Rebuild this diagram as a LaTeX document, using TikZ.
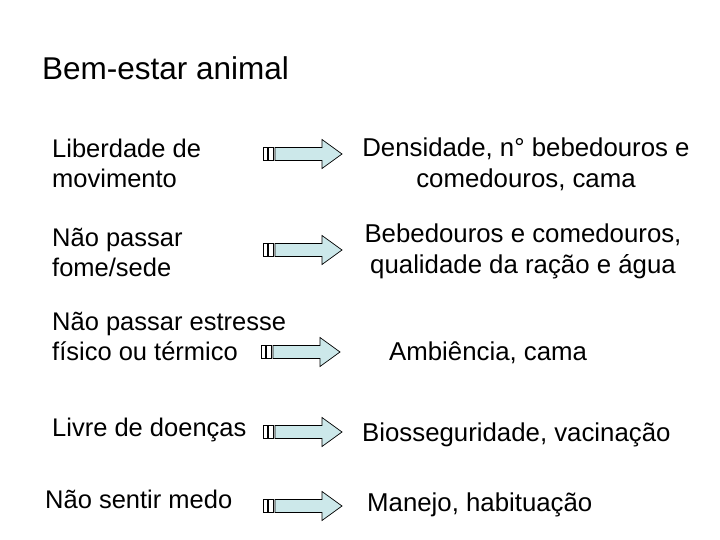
\documentclass[tikz,border=0pt]{standalone}
\usepackage{fontspec}
\setmainfont{Liberation Sans}
\usepackage{tikz}
\definecolor{arrowblue}{RGB}{204,232,234}
\tikzset{
	lefttext/.style={anchor=base west, align=left, inner sep=0pt, font=\fontsize{25.5}{30}\selectfont},
	righttext/.style={anchor=base, align=center, inner sep=0pt, font=\fontsize{25.8}{31}\selectfont},
	arrowline/.style={line width=0.7pt, draw=black}
}
% striped block arrow: (left end of the stripes, middle height)
\def\stripearrow(#1,#2){
	\draw[arrowline, fill=white] (#1, #2-6.5) rectangle (#1+4.5, #2+6.5);
	\draw[arrowline, fill=white] (#1+5.5, #2-6.5) rectangle (#1+10, #2+6.5);
	\draw[arrowline, fill=arrowblue] (#1+12, #2-6.5) -- (#1+59, #2-6.5) -- (#1+59, #2-14.5) -- (#1+79, #2) -- (#1+59, #2+14.5) -- (#1+59, #2+6.5) -- (#1+12, #2+6.5) -- cycle;
}

\begin{document}
\begin{tikzpicture}[x=1pt, y=-1pt]
			%%%%% START %%%%%
			
			\useasboundingbox (0, 0) rectangle (720, 540);
			
			\node[anchor=base west, inner sep=0pt, font=\fontsize{31.5}{36}\selectfont] (title) at (42, 80) {Bem-estar animal};
			
			% multi-line texts: y is the baseline of the last line
			\node[lefttext] (liberdade) at (52, 188) {Liberdade de\\movimento};
			\stripearrow(263, 154)
			\node[righttext] (densidade) at (526, 188) {Densidade, n° bebedouros e\\comedouros, cama};
			
			\node[lefttext] (fome) at (52, 276) {Não passar\\fome/sede};
			\stripearrow(263, 250)
			\node[righttext] (bebedouros) at (523, 273) {Bebedouros e comedouros,\\qualidade da ração e água};
			
			\node[lefttext] (estresse) at (52, 360) {Não passar estresse\\físico ou térmico};
			\stripearrow(261, 352)
			\node[righttext, anchor=base west] (ambiencia) at (389, 360) {Ambiência, cama};
			
			\node[lefttext] (doencas) at (52, 436) {Livre de doenças};
			\stripearrow(263, 432)
			\node[righttext, anchor=base west] (biosseguridade) at (362, 441) {Biosseguridade, vacinação};
			
			\node[lefttext] (medo) at (45, 508) {Não sentir medo};
			\stripearrow(263, 506)
			\node[righttext, anchor=base west] (manejo) at (367, 511) {Manejo, habituação};
			
			%%%%% END %%%%%
\end{tikzpicture}
\end{document}
